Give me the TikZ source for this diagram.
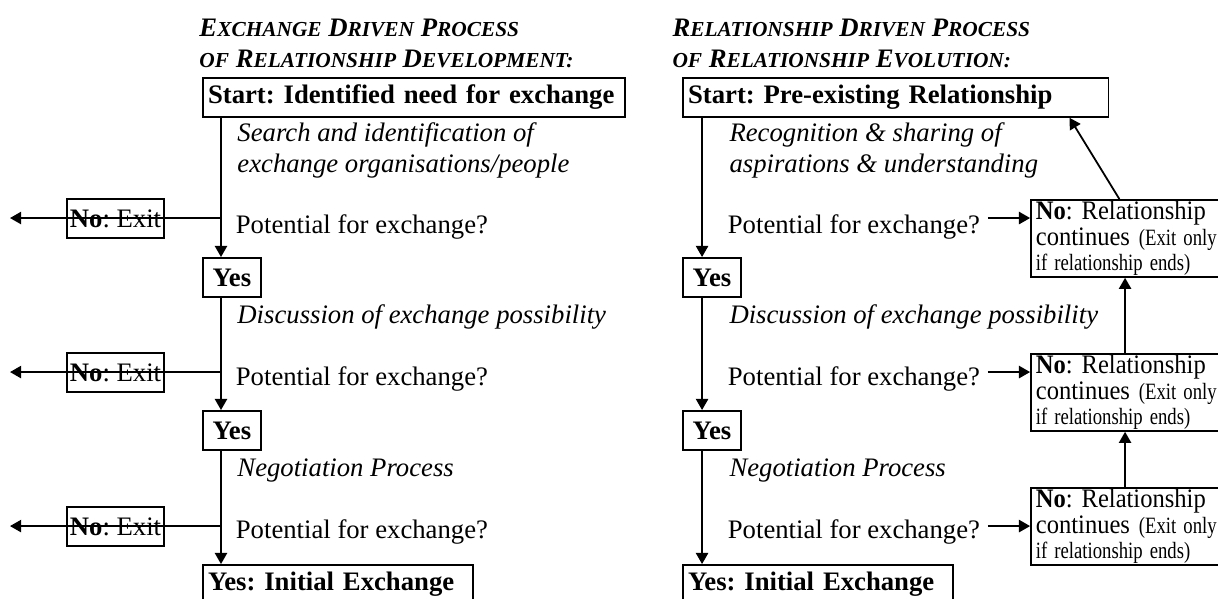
\documentclass[tikz,border=0pt]{standalone}
\usepackage{fontspec}
\setmainfont{Liberation Serif}
\newfontfamily\boxserif{Liberation Serif}[FakeStretch=0.92]
\usetikzlibrary{arrows.meta}
\tikzset{
  stepbox/.style={draw, line width=0.8pt, anchor=north west, inner xsep=2.3pt, inner ysep=0pt,
    minimum height=0.616cm, align=left, font=\fontsize{12}{14}\selectfont\bfseries},
  exitbox/.style={draw, line width=0.8pt, minimum width=1.53cm, minimum height=0.616cm, inner sep=1pt},
  nobox/.style={draw, line width=0.8pt, anchor=north west, inner xsep=2.2pt, inner ysep=0pt,
    text width=3.2cm, minimum height=1.216cm, align=left, font=\fontsize{12}{11.5}\boxserif},
  note/.style={anchor=west, inner sep=0pt, align=left, font=\fontsize{12}{14}\selectfont\itshape},
  ask/.style={anchor=west},
  heading/.style={anchor=west, inner sep=0pt, align=left, font=\fontsize{12}{14}\selectfont\bfseries\itshape},
  flow/.style={line width=0.8pt, -{Triangle[length=5pt, width=5.5pt]}},
}
\newcommand{\smcap}[2]{#1{\fontsize{9.6}{14}\selectfont #2}}
\newcommand{\smallnote}[1]{\scalebox{0.8}[1]{\rmfamily\fontsize{10.5}{11.5}\selectfont #1}}
\frenchspacing

\begin{document}
\begin{tikzpicture}[font=\fontsize{12}{14}\selectfont]
\useasboundingbox (0,0) rectangle (19.24,-9.447);
\clip (0,0) rectangle (19.24,-9.447);

% rows where the question branches off, and the two spines
\coordinate (row1) at (0,-3.444);
\coordinate (row2) at (0,-5.877);
\coordinate (row3) at (0,-8.310);
\coordinate (spineL) at (3.491,0);
\coordinate (spineR) at (11.09,0);
\coordinate (exitL) at (0.158,0);

% ── Exchange driven ─────────────────────────────────────────
\node[heading] (headL) at (3.144,-0.69)
  {\smcap{E}{XCHANGE} \smcap{D}{RIVEN} \smcap{P}{ROCESS}\\\smcap{}{OF} \smcap{R}{ELATIONSHIP} \smcap{D}{EVELOPMENT:}};
\node[stepbox, text width=6.51cm] (startL) at (3.191,-1.216) {Start: Identified need for exchange};
\node[note] (searchL) at (3.744,-2.37) {Search and identification of\\exchange organisations/people};
\node[ask] (potL1) at (3.602,-3.58) {Potential for exchange?};
\node[exitbox] (noL1) at (1.825,-3.452) {\textbf{No}: Exit};
\node[stepbox, minimum width=0.916cm] (yesL1) at (3.191,-4.060) {Yes};
\node[note] (discL) at (3.744,-5.01) {Discussion of exchange possibility};
\node[ask] (potL2) at (3.602,-5.98) {Potential for exchange?};
\node[exitbox] (noL2) at (1.825,-5.885) {\textbf{No}: Exit};
\node[stepbox, minimum width=0.916cm] (yesL2) at (3.191,-6.477) {Yes};
\node[note] (negoL) at (3.744,-7.44) {Negotiation Process};
\node[ask] (potL3) at (3.602,-8.41) {Potential for exchange?};
\node[exitbox] (noL3) at (1.825,-8.318) {\textbf{No}: Exit};
\node[stepbox, text width=4.11cm] (endL) at (3.191,-8.910) {Yes: Initial Exchange};

\draw[flow] (spineL |- startL.south) -- (spineL |- yesL1.north);
\draw[flow] (spineL |- yesL1.south) -- (spineL |- yesL2.north);
\draw[flow] (spineL |- yesL2.south) -- (spineL |- endL.north);
\draw[flow] (spineL |- row1) -- (exitL |- row1);
\draw[flow] (spineL |- row2) -- (exitL |- row2);
\draw[flow] (spineL |- row3) -- (exitL |- row3);

% ── Relationship driven ─────────────────────────────────────
\node[heading] (headR) at (10.616,-0.69)
  {\smcap{R}{ELATIONSHIP} \smcap{D}{RIVEN} \smcap{P}{ROCESS}\\\smcap{}{OF} \smcap{R}{ELATIONSHIP} \smcap{E}{VOLUTION:}};
\node[stepbox, text width=6.56cm] (startR) at (10.774,-1.216) {Start: Pre-existing Relationship};
\node[note] (recogR) at (11.517,-2.37) {Recognition \& sharing of\\aspirations \& understanding};
\node[ask] (potR1) at (11.374,-3.58) {Potential for exchange?};
\node[stepbox, minimum width=0.916cm] (yesR1) at (10.774,-4.060) {Yes};
\node[note] (discR) at (11.517,-5.01) {Discussion of exchange possibility};
\node[ask] (potR2) at (11.374,-5.98) {Potential for exchange?};
\node[stepbox, minimum width=0.916cm] (yesR2) at (10.774,-6.477) {Yes};
\node[note] (negoR) at (11.517,-7.44) {Negotiation Process};
\node[ask] (potR3) at (11.374,-8.41) {Potential for exchange?};
\node[stepbox, text width=4.11cm] (endR) at (10.774,-8.910) {Yes: Initial Exchange};

\node[nobox] (noR1) at (16.272,-3.144)
  {\textbf{No}: Relationship\\continues \smallnote{(Exit only}\\\smallnote{if relationship ends)}};
\node[nobox] (noR2) at (16.272,-5.577)
  {\textbf{No}: Relationship\\continues \smallnote{(Exit only}\\\smallnote{if relationship ends)}};
\node[nobox] (noR3) at (16.272,-7.694)
  {\textbf{No}: Relationship\\continues \smallnote{(Exit only}\\\smallnote{if relationship ends)}};

\draw[flow] (spineR |- startR.south) -- (spineR |- yesR1.north);
\draw[flow] (spineR |- yesR1.south) -- (spineR |- yesR2.north);
\draw[flow] (spineR |- yesR2.south) -- (spineR |- endR.north);
\draw[flow] (potR1.east |- row1) -- (noR1.west |- row1);
\draw[flow] (potR2.east |- row2) -- (noR2.west |- row2);
\draw[flow] (potR3.east |- row3) -- (noR3.west |- row3);
\draw[flow] ([xshift=1.5cm]noR3.north west) -- ([xshift=1.5cm]noR2.south west);
\draw[flow] ([xshift=1.5cm]noR2.north west) -- ([xshift=1.5cm]noR1.south west);
\draw[flow] ([xshift=1.41cm]noR1.north west) -- ([xshift=-0.63cm]startR.south east);

\end{tikzpicture}
\end{document}
